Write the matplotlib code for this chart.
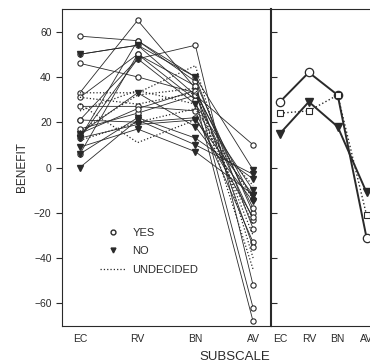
import matplotlib
matplotlib.use("Agg")
import matplotlib.pyplot as plt
from matplotlib.lines import Line2D

plt.rcParams['font.family'] = ['Liberation Sans', 'DejaVu Sans']

subscales = ["EC", "RV", "BN", "AV"]

# individual respondents (EC, RV, BN, AV)
yes_lines = [
    [58, 56, 38, -20],
    [46, 40, 33, -14],
    [33, 65, 35, -62],
    [31, 50, 30, -68],
    [27, 27, 25, -33],
    [21, 48, 54, -52],
    [17, 24, 32, -23],
    [13, 56, 40, -27],
    [50, 54, 32, 10],
    [6, 50, 36, -35],
    [15, 26, 34, -18],
    [21, 20, 22, -22],
]
no_lines = [
    [0, 21, 10, -3],
    [9, 17, 7, -12],
    [50, 54, 40, -1],
    [6, 22, 13, -5],
    [13, 19, 21, -12],
    [15, 33, 18, -15],
    [13, 48, 28, -10],
]
undecided_lines = [
    [33, 33, 45, -40],
    [28, 11, 21, -8],
    [25, 34, 28, -25],
    [16, 32, 35, -45],
    [12, 20, 26, -14],
    [31, 28, 33, -30],
]

# group means
yes_mean = [29, 42, 32, -31]
no_mean = [15, 29, 18, -11]
undecided_mean = [24, 25, 32, -21]

yticks = [-60, -40, -20, 0, 20, 40, 60]
ink = "#2a2a2a"

fig = plt.figure(figsize=(3.7, 3.64), dpi=100)
ax = fig.add_axes([62/370, 38/364, 209/370, 317/364])
ax2 = fig.add_axes([271/370, 38/364, 104.5/370, 317/364])

x = range(len(subscales))
for v in yes_lines:
    ax.plot(x, v, color=ink, lw=0.6, marker="o", ms=3.8, mfc="white", mec=ink, mew=0.8)
for v in no_lines:
    ax.plot(x, v, color=ink, lw=0.6, marker="v", ms=3.8, mfc=ink, mec=ink)
for v in undecided_lines:
    ax.plot(x, v, color=ink, lw=0.9, ls=":")

ax2.plot(x, yes_mean, color=ink, lw=1.4, marker="o", ms=6, mfc="white", mec=ink, mew=0.9)
ax2.plot(x, no_mean, color=ink, lw=1.4, marker="v", ms=6, mfc=ink, mec=ink)
ax2.plot(x, undecided_mean, color=ink, lw=1.0, ls=":", marker="s", ms=4.5, mfc="white", mec=ink, mew=0.8)

for a in (ax, ax2):
    a.set_xlim(-0.31, 3.31)
    a.set_ylim(-70, 70)
    a.set_yticks(yticks)
    a.set_xticks(list(x))
    a.set_xticklabels(subscales)
    a.tick_params(axis="x", length=0, pad=6, labelsize=7.5, colors=ink)
    for s in a.spines.values():
        s.set_color(ink)
        s.set_linewidth(0.8)

ax.set_yticklabels([str(t).replace("-", "\u2212") for t in yticks])
ax.tick_params(axis="y", direction="out", length=4, labelsize=7.5, colors=ink, width=0.8)
ax.spines["right"].set_visible(False)
ax2.spines["left"].set_linewidth(1.5)
ax2.spines["right"].set_visible(False)
ax2.tick_params(axis="y", direction="in", length=4, labelleft=False, width=0.8, colors=ink)

ax.set_ylabel("BENEFIT", fontsize=8.5, color=ink, labelpad=4)
fig.text(235/370, 1 - 357/364, "SUBSCALE", ha="center", va="center", fontsize=9.5, color=ink)

handles = [
    Line2D([], [], color=ink, ls="none", marker="o", ms=3.5, mfc="white", mec=ink),
    Line2D([], [], color=ink, ls="none", marker="v", ms=3.5, mfc=ink, mec=ink),
    Line2D([], [], color=ink, ls=":", lw=0.9),
]
leg = ax.legend(handles, ["YES", "NO", "UNDECIDED"], loc="upper left",
                bbox_to_anchor=(100/370, 1 - 228/364), bbox_transform=fig.transFigure,
                frameon=False, fontsize=8, handlelength=2.3, handletextpad=0.6,
                labelspacing=0.75, borderpad=0, borderaxespad=0)
for t in leg.get_texts():
    t.set_color(ink)

fig.savefig("out.png", dpi=100)
